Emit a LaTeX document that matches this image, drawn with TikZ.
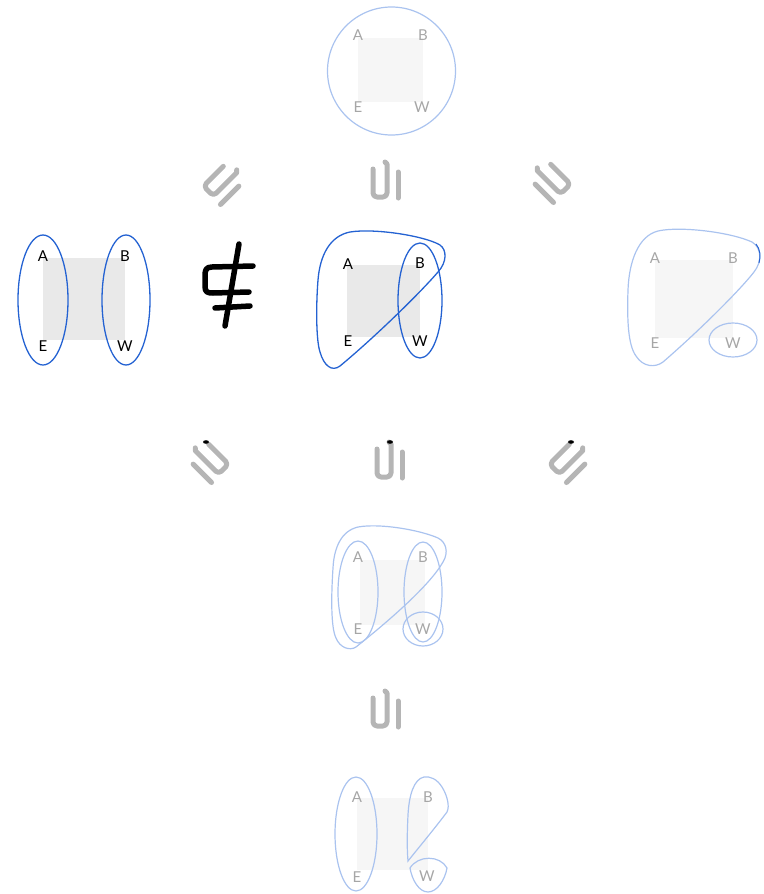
\documentclass[tikz,border=0pt]{standalone}
\usepackage{fontspec}
\setmainfont{Lato}
\definecolor{bluestrong}{HTML}{2462D2}
\definecolor{bluefaint}{HTML}{AAC3EF}
\definecolor{symgray}{HTML}{B5B5B5}
\definecolor{sqstrong}{HTML}{E9E9E9}
\definecolor{sqfaint}{HTML}{F6F6F6}
\definecolor{txtfaint}{HTML}{A6A6A6}
\tikzset{
  strong/.style={draw=bluestrong, line width=1.3pt},
  faint/.style={draw=bluefaint, line width=1.2pt},
  lbl/.style={font=\fontsize{15}{17}\selectfont, inner sep=0pt, anchor=center},
  lblstrong/.style={lbl, text=black},
  lblfaint/.style={lbl, text=txtfaint},
  symline/.style={draw=symgray, line width=5pt, line cap=round, line join=round},
  notsub/.style={draw=black, line width=5.5pt, line cap=round, line join=round},
  subsetsym/.pic={
    \draw[symline, rounded corners=4pt] (-13,-12) -- (-13,16) -- (1,16) -- (1,-13) .. controls (1,-17) .. (-1,-19);
    \draw[symline] (12,-9) -- (12,17);
  }
}
\begin{document}
\begin{tikzpicture}[x=1pt,y=-1pt]
\useasboundingbox (0,0) rectangle (763,894);

% ---------- top circle ----------
\fill[sqfaint] (358,38) rectangle (423,102);
\draw[faint] (391.5,71) circle (64);
\node[lblfaint] (tA) at (358,35) {A};
\node[lblfaint] (tB) at (423,35) {B};
\node[lblfaint] (tE) at (358,107) {E};
\node[lblfaint] (tW) at (422,107) {W};

% ---------- upper symbols ----------
\pic at (224,184) [rotate=-45] {subsetsym};
\pic at (386,181) {subsetsym};
\pic at (550,182) [rotate=45, xscale=-1] {subsetsym};

% ---------- left diagram ----------
\fill[sqstrong] (43,258) rectangle (125,340);
\draw[strong] (43,300) ellipse [x radius=25, y radius=65];
\draw[strong] (126,300) ellipse [x radius=24, y radius=65];
\node[lblstrong] (lA) at (43,256) {A};
\node[lblstrong] (lB) at (125,256) {B};
\node[lblstrong] (lE) at (43,346) {E};
\node[lblstrong] (lW) at (125,346) {W};

% not-subset symbol
\draw[notsub] (253,266) -- (212,267) .. controls (206,267) and (205,270) .. (205,276) -- (205,286) .. controls (205,292) and (207,293) .. (213,293) -- (249,292);
\draw[notsub] (215,308) -- (250,306);
\draw[notsub] (239,244) -- (225,326);

% ---------- middle diagram ----------
\fill[sqstrong] (347,265) rectangle (420,337);
\draw[strong] (340,366) .. controls (375,337) and (420,293) .. (438,272) .. controls (447,262) and (447,250) .. (440,245) .. controls (425,236) and (375,228) .. (350,232) .. controls (330,236) and (320,255) .. (318,280) .. controls (316,305) and (316,340) .. (320,352) .. controls (324,366) and (332,372) .. (340,366) -- cycle;
\draw[strong] (420,300.5) ellipse [x radius=22, y radius=57.5];
\node[lblstrong] (mA) at (348,264) {A};
\node[lblstrong] (mB) at (420,263) {B};
\node[lblstrong] (mE) at (348,341) {E};
\node[lblstrong] (mW) at (420,341) {W};

% ---------- right diagram ----------
\fill[sqfaint] (655,260) rectangle (733,338);
\draw[faint] (663,362) .. controls (700,330) and (740,290) .. (754,272) .. controls (762,262) and (762,248) .. (752,242) .. controls (730,232) and (680,226) .. (658,231) .. controls (638,236) and (629,262) .. (628,290) .. controls (627,320) and (628,345) .. (636,356) .. controls (643,367) and (655,368) .. (663,362) -- cycle;
\draw[strong, line width=1pt] (756,244) .. controls (760,249) and (761,256) .. (759,263);
\draw[faint] (733,340) ellipse [x radius=24, y radius=17];
\node[lblfaint] (rA) at (655,258) {A};
\node[lblfaint] (rB) at (733,258) {B};
\node[lblfaint] (rE) at (655,343) {E};
\node[lblfaint] (rW) at (733,343) {W};

% ---------- lower symbols ----------
\pic at (208,462) [rotate=45, xscale=-1] {subsetsym};
\pic at (390,461) {subsetsym};
\pic at (570,462) [rotate=-45] {subsetsym};
\fill[black] (206,442) ellipse [x radius=3, y radius=1.8];
\fill[black] (390,442) ellipse [x radius=3, y radius=1.8];
\fill[black] (571,442) ellipse [x radius=3, y radius=1.8];

% ---------- cluster 4 ----------
\fill[sqfaint] (360,560) rectangle (425,625);
\draw[faint] (356,647) .. controls (390,620) and (430,585) .. (443,562) .. controls (449,552) and (446,542) .. (438,538) .. controls (420,530) and (380,523) .. (358,527) .. controls (341,531) and (334,548) .. (333,568) .. controls (331,598) and (331,628) .. (336,638) .. controls (340,648) and (350,651) .. (356,647) -- cycle;
\draw[faint] (358,592) ellipse [x radius=20, y radius=51];
\draw[faint] (423,592) ellipse [x radius=19, y radius=50];
\draw[faint] (423,629) ellipse [x radius=20, y radius=17];
\node[lblfaint] (cA) at (358,557) {A};
\node[lblfaint] (cB) at (423,557) {B};
\node[lblfaint] (cE) at (358,629) {E};
\node[lblfaint] (cW) at (423,629) {W};

% symbol between cluster 4 and 5
\pic at (386,710) {subsetsym};

% ---------- cluster 5 ----------
\fill[sqfaint] (357,798) rectangle (428,870);
\draw[faint] (356,834) ellipse [x radius=21, y radius=57];
\draw[faint] (408,861) .. controls (420,846) and (435,828) .. (447,812) .. controls (450,806) and (447,795) .. (442,787) .. controls (437,779) and (430,776) .. (424,777) .. controls (414,779) and (409,795) .. (408,815) .. controls (407,835) and (407,850) .. (408,861) -- cycle;
\draw[faint] (410,868) .. controls (418,855) and (440,855) .. (447,868) .. controls (445,880) and (437,892) .. (428,892) .. controls (419,892) and (412,880) .. (410,868) -- cycle;
\node[lblfaint] (dA) at (357,797) {A};
\node[lblfaint] (dB) at (428,797) {B};
\node[lblfaint] (dE) at (357,877) {E};
\node[lblfaint] (dW) at (427,876) {W};
\end{tikzpicture}
\end{document}
